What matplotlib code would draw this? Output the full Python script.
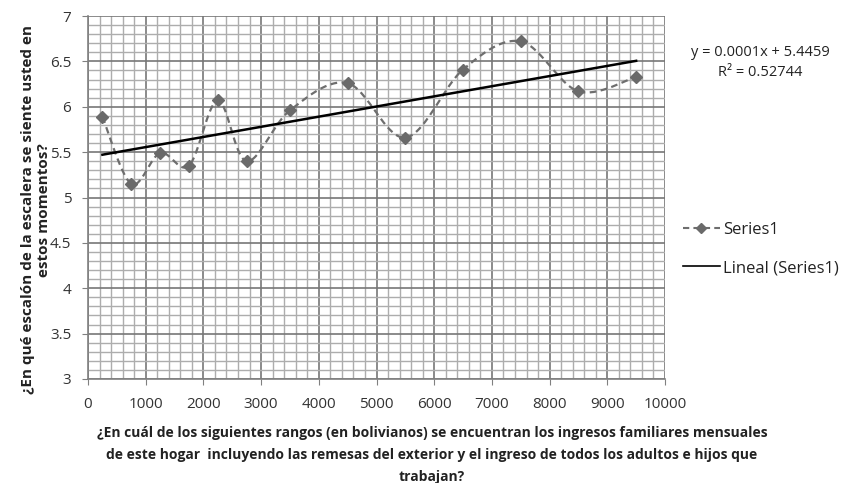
import numpy as np
import matplotlib
matplotlib.use("Agg")
import matplotlib.pyplot as plt
from matplotlib.lines import Line2D

# ---- data ----
income = [250, 750, 1250, 1750, 2250, 2750, 3500, 4500, 5500, 6500, 7500, 8500, 9500]
ladder = [5.89, 5.15, 5.49, 5.35, 6.07, 5.40, 5.96, 6.26, 5.66, 6.41, 6.72, 6.17, 6.33]
xticks = [0, 1000, 2000, 3000, 4000, 5000, 6000, 7000, 8000, 9000, 10000]
yticks = [3, 3.5, 4, 4.5, 5, 5.5, 6, 6.5, 7]
series_name = "Series1"
trend_name = "Lineal (Series1)"
eq_text = "y = 0.0001x + 5.4459"
r2_text = "R² = 0.52744"
xlabel = ("¿En cuál de los siguientes rangos (en bolivianos) se encuentran los ingresos familiares mensuales\n"
          "de este hogar  incluyendo las remesas del exterior y el ingreso de todos los adultos e hijos que\n"
          "trabajan?")
ylabel = "¿En qué escalón de la escalera se siente usted en\nestos momentos?"

plt.rcParams['font.family'] = ['Open Sans', 'DejaVu Sans']

def smooth(xs, ys, n=30):
    # Catmull-Rom style Bezier smoothing (like spreadsheet "smoothed line")
    P = np.column_stack([xs, ys]).astype(float)
    out = [P[0]]
    for i in range(len(P) - 1):
        p0 = P[i - 1] if i > 0 else P[i]
        p1 = P[i]
        p2 = P[i + 1]
        p3 = P[i + 2] if i + 2 < len(P) else P[i + 1]
        c1 = p1 + (p2 - p0) / 6.0
        c2 = p2 - (p3 - p1) / 6.0
        t = np.linspace(0, 1, n)[1:, None]
        b = ((1 - t) ** 3) * p1 + 3 * ((1 - t) ** 2) * t * c1 + 3 * (1 - t) * t ** 2 * c2 + t ** 3 * p2
        out.extend(b)
    out = np.array(out)
    return out[:, 0], out[:, 1]

W, H = 841, 483
fig = plt.figure(figsize=(W / 100, H / 100), dpi=100)
ax = fig.add_axes([88 / W, 1 - 379 / H, (665 - 88) / W, (379 - 16) / H])

ax.set_xlim(0, 10000)
ax.set_ylim(3, 7)
ax.set_xticks(xticks)
ax.set_yticks(yticks)
ax.set_yticklabels([f"{v:g}" for v in yticks])
ax.set_xticks(np.arange(0, 10001, 200), minor=True)
ax.set_yticks(np.arange(3, 7.001, 0.1), minor=True)
ax.grid(which='minor', color='#adadad', linewidth=1.0)
ax.grid(which='major', color='#777777', linewidth=1.2)
ax.set_axisbelow(True)
ax.tick_params(which='minor', length=0)
ax.tick_params(which='major', length=4, color='#808080', labelsize=11, labelcolor='#333333')
ax.tick_params(axis='y', pad=8)
ax.tick_params(axis='x', pad=9)
for s in ['top', 'right']:
    ax.spines[s].set_visible(False)
for s in ['left', 'bottom']:
    ax.spines[s].set_color('#808080')
    ax.spines[s].set_linewidth(1.2)

sx, sy = smooth(income, ladder)
ax.plot(sx, sy, linestyle=(0, (3, 2)), color='#6e6e6e', linewidth=1.6, zorder=3)
ax.plot(income, ladder, linestyle='none', marker='D', markersize=6, color='#6a6a6a', zorder=4)

coef = np.polyfit(income, ladder, 1)
tx = np.array([income[0], income[-1]])
ax.plot(tx, np.polyval(coef, tx), color='black', linewidth=1.8, zorder=5)

fig.text(760 / W, 1 - 52 / H, eq_text, ha='center', va='center', fontsize=10.5, color='#222222')
fig.text(760 / W, 1 - 72 / H, r2_text, ha='center', va='center', fontsize=10.5, color='#222222')

handles = [Line2D([], [], linestyle=(0, (3, 2)), color='#6e6e6e', linewidth=1.5,
                  marker='D', markersize=5, markerfacecolor='#6a6a6a', markeredgecolor='#6a6a6a'),
           Line2D([], [], color='black', linewidth=1.2)]
fig.legend(handles, [series_name, trend_name], loc='center left',
           bbox_to_anchor=(668 / W, 1 - 249 / H), frameon=False, fontsize=12,
           handlelength=2.2, handletextpad=0.2, labelspacing=1.35, labelcolor='#222222')

fig.text(432 / W, 1 - 455 / H, xlabel, ha='center', va='center', fontsize=10,
         fontweight='bold', color='#222222', linespacing=1.7)
fig.text(36 / W, 1 - 210 / H, ylabel, ha='center', va='center', rotation=90, fontsize=11,
         fontweight='bold', color='#222222', linespacing=1.2, multialignment='center')

fig.savefig("out.png", dpi=100)
